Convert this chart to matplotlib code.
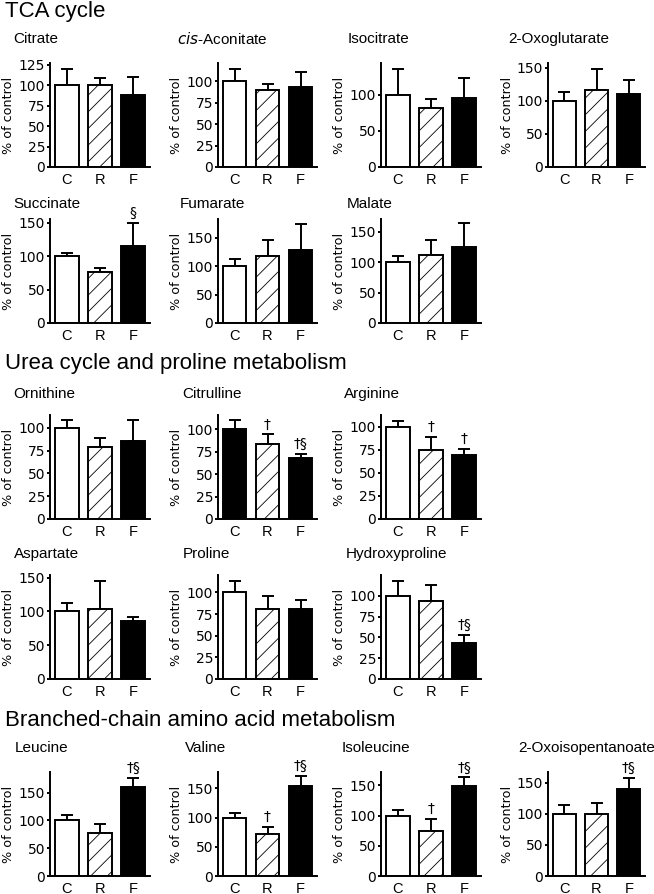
import matplotlib
matplotlib.use('Agg')
import matplotlib.pyplot as plt

plt.rcParams['hatch.linewidth'] = 0.6
plt.rcParams['font.family'] = ['DejaVu Sans']

categories = ['C', 'R', 'F']

# ---- data (mean % of control, upper error) ----
citrate_mean = [100, 100, 88]
citrate_err = [20, 8.5, 22.5]
cisaconitate_mean = [100, 90, 92.5]
cisaconitate_err = [14, 6, 18.5]
isocitrate_mean = [100, 82, 96]
isocitrate_err = [36, 12, 27]
oxoglutarate_mean = [100, 115.5, 110]
oxoglutarate_err = [13.5, 33, 22]
succinate_mean = [100, 76, 116]
succinate_err = [5, 6.5, 34]
fumarate_mean = [100, 118.5, 128.5]
fumarate_err = [13, 27.5, 46.5]
malate_mean = [100, 111.5, 125]
malate_err = [10.5, 25.5, 39]
ornithine_mean = [100, 79, 86]
ornithine_err = [8, 10, 22]
citrulline_mean = [100, 83.5, 67.5]
citrulline_err = [10, 11, 5]
arginine_mean = [100, 75.5, 69]
arginine_err = [7, 13.5, 7]
aspartate_mean = [100, 104, 86]
aspartate_err = [12.5, 41, 6]
proline_mean = [100, 80.5, 81]
proline_err = [13, 15.5, 10]
hydroxyproline_mean = [100, 94, 43]
hydroxyproline_err = [17.5, 19.5, 10]
leucine_mean = [100, 77.5, 160.5]
leucine_err = [10, 16.5, 16]
valine_mean = [100, 72, 154.5]
valine_err = [7.5, 12.5, 16.5]
isoleucine_mean = [100, 74.5, 149]
isoleucine_err = [8.5, 20.5, 14]
oxoisopentanoate_mean = [100, 99, 140.5]
oxoisopentanoate_err = [14.5, 19, 17.5]

no_marks = ['', '', '']
succinate_marks = ['', '', '\u00a7']
citrulline_marks = ['', '\u2020', '\u2020\u00a7']
arginine_marks = ['', '\u2020', '\u2020']
hydroxyproline_marks = ['', '', '\u2020\u00a7']
leucine_marks = ['', '', '\u2020\u00a7']
valine_marks = ['', '\u2020', '\u2020\u00a7']
isoleucine_marks = ['', '\u2020', '\u2020\u00a7']
oxoisopentanoate_marks = ['', '', '\u2020\u00a7']

section_titles = ['TCA cycle', 'Urea cycle and proline metabolism',
                  'Branched-chain amino acid metabolism']

# ---- layout (pixels) ----
W, H = 654, 894
col_x = [50, 218, 381, 548]
col_w = [100, 99, 100, 97]
row_bottom = [167, 323, 519, 679, 876]
row_title_y = [39, 204, 394, 554, 748]
section_y = [12, 363, 720]
ax_h = 104

t25 = [0, 25, 50, 75, 100]
t50 = [0, 50, 100, 150]

# (row, col, title, mean, err, marks, ymax, ticks, C colour, title x px)
panels = [
    (0, 0, 'Citrate', citrate_mean, citrate_err, no_marks, 127, [0, 25, 50, 75, 100, 125], 'white', 13),
    (0, 1, r'$\it{cis}$-Aconitate', cisaconitate_mean, cisaconitate_err, no_marks, 121, t25, 'white', 177),
    (0, 2, 'Isocitrate', isocitrate_mean, isocitrate_err, no_marks, 144, [0, 50, 100], 'white', 348),
    (0, 3, '2-Oxoglutarate', oxoglutarate_mean, oxoglutarate_err, no_marks, 157, t50, 'white', 508),
    (1, 0, 'Succinate', succinate_mean, succinate_err, succinate_marks, 156, t50, 'white', 13),
    (1, 1, 'Fumarate', fumarate_mean, fumarate_err, no_marks, 183, t50, 'white', 180),
    (1, 2, 'Malate', malate_mean, malate_err, no_marks, 171, t50, 'white', 347),
    (2, 0, 'Ornithine', ornithine_mean, ornithine_err, no_marks, 114, t25, 'white', 13),
    (2, 1, 'Citrulline', citrulline_mean, citrulline_err, citrulline_marks, 116, t25, 'black', 182),
    (2, 2, 'Arginine', arginine_mean, arginine_err, arginine_marks, 113, t25, 'white', 344),
    (3, 0, 'Aspartate', aspartate_mean, aspartate_err, no_marks, 154, t50, 'white', 14),
    (3, 1, 'Proline', proline_mean, proline_err, no_marks, 120, t25, 'white', 183),
    (3, 2, 'Hydroxyproline', hydroxyproline_mean, hydroxyproline_err, hydroxyproline_marks, 125, t25, 'white', 346),
    (4, 0, 'Leucine', leucine_mean, leucine_err, leucine_marks, 187, t50, 'white', 15),
    (4, 1, 'Valine', valine_mean, valine_err, valine_marks, 178, t50, 'white', 185),
    (4, 2, 'Isoleucine', isoleucine_mean, isoleucine_err, isoleucine_marks, 172, t50, 'white', 342),
    (4, 3, '2-Oxoisopentanoate', oxoisopentanoate_mean, oxoisopentanoate_err, oxoisopentanoate_marks, 167, t50, 'white', 518),
]

fig = plt.figure(figsize=(W / 100, H / 100), dpi=100)

for s, y in zip(section_titles, section_y):
    fig.text(5 / W, 1 - y / H, s, fontsize=16, family='Liberation Sans', va='center', ha='left')

LW = 1.4
for (r, c, title, mean, err, marks, ymax, ticks, ccol, tx) in panels:
    ax = fig.add_axes([col_x[c] / W, 1 - row_bottom[r] / H, col_w[c] / W, ax_h / H])
    x = list(range(len(categories)))
    bars = ax.bar(x, mean, width=0.72, color=[ccol, 'white', 'black'],
                  edgecolor='black', linewidth=LW, zorder=2)
    bars[1].set_hatch('//')
    ax.errorbar(x, mean, yerr=[[0] * len(err), err], fmt='none', ecolor='black',
                elinewidth=LW, capsize=4, capthick=LW, zorder=1)
    for i, m in enumerate(marks):
        if m:
            ax.annotate(m, (x[i], mean[i] + err[i]), xytext=(0, 2), textcoords='offset points',
                        ha='center', va='bottom', fontsize=10, annotation_clip=False)
    ax.set_xlim(-0.5, 2.5)
    ax.set_ylim(0, ymax)
    ax.set_yticks(ticks)
    ax.set_xticks(x)
    ax.set_xticklabels(categories, fontsize=10.5, family='Liberation Sans')
    ax.tick_params(axis='x', length=0, pad=4)
    ax.tick_params(axis='y', length=2.5, width=LW, pad=1, labelsize=10)
    for sp in ['top', 'right']:
        ax.spines[sp].set_visible(False)
    for sp in ['left', 'bottom']:
        ax.spines[sp].set_linewidth(LW)
    ax.set_ylabel('% of control', fontsize=9.2)
    ax.yaxis.set_label_coords(-0.35, 0.5)
    fig.text(tx / W, 1 - row_title_y[r] / H, title, fontsize=11, family='Liberation Sans',
             va='center', ha='left')

fig.savefig('out.png', dpi=100)
